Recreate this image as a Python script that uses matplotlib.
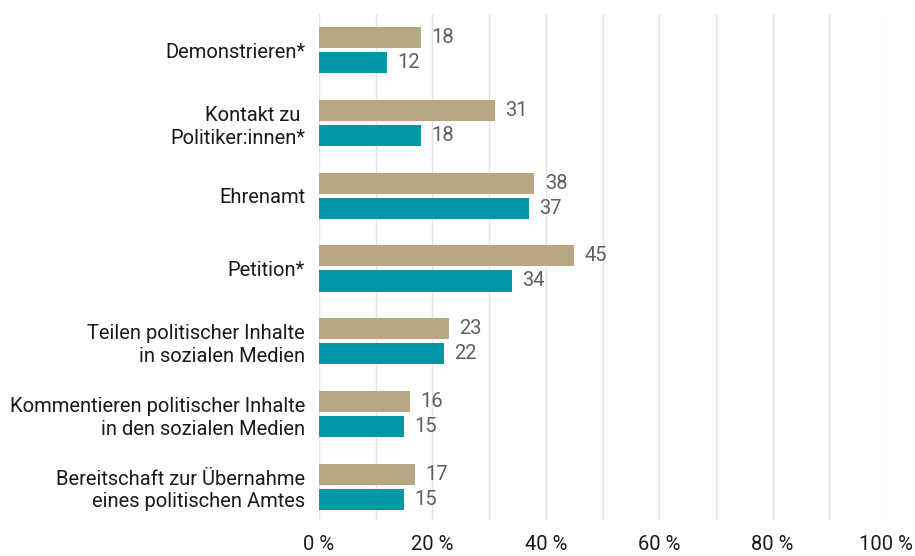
import matplotlib
matplotlib.use('Agg')
import matplotlib.pyplot as plt
import numpy as np

# 数据
categories = ['Demonstrieren*', 'Kontakt zu \nPolitiker:innen*', 'Ehrenamt', 'Petition*',
              'Teilen politischer Inhalte\nin sozialen Medien',
              'Kommentieren politischer Inhalte\nin den sozialen Medien',
              'Bereitschaft zur Übernahme\neines politischen Amtes']
series_a = [18, 31, 38, 45, 23, 16, 17]
series_b = [12, 18, 37, 34, 22, 15, 15]
xticks = [0, 20, 40, 60, 80, 100]
xtick_labels = ['0 %', '20 %', '40 %', '60 %', '80 %', '100 %']

plt.rcParams['font.family'] = ['Roboto', 'DejaVu Sans']

fig = plt.figure(figsize=(9.15, 5.56), dpi=100)
ax = fig.add_axes([319 / 915, 36 / 556, (886 - 319) / 915, 506 / 556])

y = np.arange(len(categories))
h = 0.29
off = 0.172
ax.barh(y - off, series_a, height=h, color='#b9a783', zorder=3)
ax.barh(y + off, series_b, height=h, color='#0098a6', zorder=3)

# 数值标签
for i in range(len(categories)):
    ax.text(series_a[i] + 1.8, y[i] - off, str(series_a[i]), va='center', ha='left',
            fontsize=14.5, color='#5f5f5f')
    ax.text(series_b[i] + 1.8, y[i] + off, str(series_b[i]), va='center', ha='left',
            fontsize=14.5, color='#5f5f5f')

ax.set_xlim(0, 100)
ax.set_ylim(6.46, -0.5)
ax.set_yticks(y)
ax.set_yticklabels(categories, fontsize=14.5, color='#1a1a1a', ha='right', linespacing=1.25)
ax.set_xticks(xticks)
ax.set_xticklabels(xtick_labels, fontsize=14.5, color='#1a1a1a')
ax.set_xticks(np.arange(0, 101, 10), minor=True)
ax.tick_params(axis='y', length=0, pad=10)
ax.tick_params(axis='x', which='both', length=0, pad=11)
ax.grid(axis='x', which='both', color='#e3e3e3', linewidth=1, zorder=0)
for s in ax.spines.values():
    s.set_visible(False)

plt.savefig('out.png', dpi=100)
